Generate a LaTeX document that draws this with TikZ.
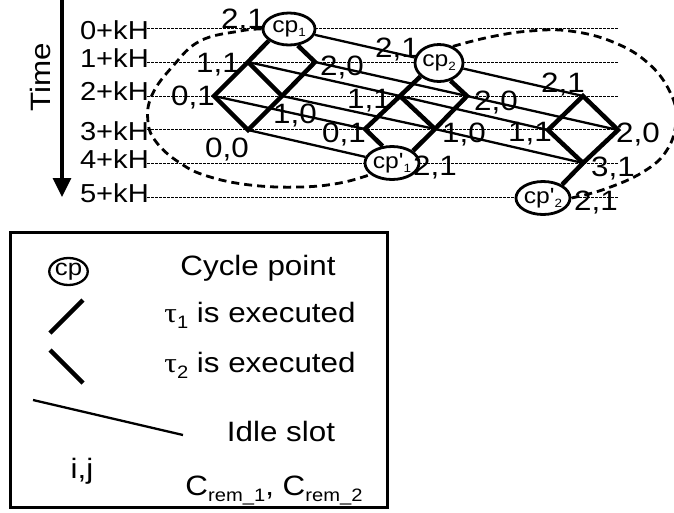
\documentclass[tikz,border=0pt]{standalone}
\usepackage{fontspec}
\setmainfont{Liberation Sans}[FakeStretch=1.12,Ligatures=TeXOff]
\newfontfamily\greekf{Liberation Serif}[FakeStretch=1.12]
\usetikzlibrary{arrows.meta,shapes.geometric}
\newcommand\cpsub[1]{\raisebox{-4pt}{\fontsize{12}{12}\selectfont #1}}
\newcommand\lgsub[1]{\raisebox{-6pt}{\fontsize{18}{18}\selectfont #1}}
\tikzset{
  lbl/.style={inner sep=0pt, anchor=base, font=\fontsize{28}{30}\selectfont},
  tlbl/.style={inner sep=0pt, anchor=base east, font=\fontsize{26}{28}\selectfont},
  cpnode/.style={ellipse, draw, line width=2.8pt, fill=white, inner sep=0pt, font=\fontsize{22}{24}\selectfont},
  exec/.style={line width=4.5pt, line join=miter},
  idle/.style={line width=2.3pt},
  gridline/.style={line width=1pt, dash pattern=on 2.5pt off 1.5pt},
  cyclearc/.style={line width=2.8pt, dash pattern=on 8pt off 5pt},
  legtext/.style={inner sep=0pt, anchor=base, font=\fontsize{28}{30}\selectfont},
}
\begin{document}
\begin{tikzpicture}[x=1pt,y=-1pt]
\useasboundingbox (0,0) rectangle (674,512);
% time axis
\coordinate (tA) at (62,0);
\coordinate (tB) at (62,197);
\draw[line width=3.3pt, -{Triangle[length=19pt,width=18pt]}] (tA) -- (tB);
\node[rotate=90, inner sep=0pt, font=\fontsize{28}{30}\selectfont] (time) at (40,77) {Time};
% time labels
\node[tlbl] (t0) at (149,39) {0+kH};
\node[tlbl] (t1) at (149,67) {1+kH};
\node[tlbl] (t2) at (149,100) {2+kH};
\node[tlbl] (t3) at (149,140) {3+kH};
\node[tlbl] (t4) at (149,168) {4+kH};
\node[tlbl] (t5) at (149,202) {5+kH};
% grid lines
\foreach \yy in {28,62,96,129.5,163,197} \draw[gridline] (147,\yy) -- (618,\yy);
% cycle point nodes
\node[cpnode, minimum width=52pt, minimum height=32pt] (cp1) at (289,29) {cp\cpsub{1}};
\node[cpnode, minimum width=48pt, minimum height=37pt] (cp2) at (439,63) {cp\cpsub{2}};
\node[cpnode, minimum width=49pt, minimum height=33pt] (cpp1) at (392,163) {cp'\cpsub{1}};
\node[cpnode, minimum width=47pt, minimum height=33pt] (cpp2) at (543,198) {cp'\cpsub{2}};
% vertices
\coordinate (A) at (248,62);
\coordinate (C) at (315,62);
\coordinate (B) at (214,96);
\coordinate (D) at (282,96);
\coordinate (E) at (248,130);
\coordinate (F) at (400,96);
\coordinate (G) at (467,96);
\coordinate (H) at (365,129);
\coordinate (I) at (435,129);
\coordinate (J) at (583,96);
\coordinate (K) at (548,130);
\coordinate (L) at (618,130);
\coordinate (M) at (583,163);
% idle slots
\draw[idle] (cp1) -- (cp2);
\draw[idle] (A) -- (F);
\draw[idle] (C) -- (G);
\draw[idle] (B) -- (H);
\draw[idle] (D) -- (I);
\draw[idle] (E) -- (cpp1);
\draw[idle] (cp2) -- (J);
\draw[idle] (F) -- (K);
\draw[idle] (G) -- (L);
\draw[idle] (I) -- (M);
% executions
\draw[exec] (cp1.210) -- (A) -- (B) -- (E) -- (D) -- (C) -- (cp1.298);
\draw[exec] (A) -- (D);
\draw[exec] (cp2.216) -- (F) -- (H) -- (cpp1.119);
\draw[exec] (cp2.303) -- (G) -- (I) -- (cpp1.30);
\draw[exec] (F) -- (I);
\draw[exec] (J) -- (K) -- (M) -- (L) -- cycle;
\draw[exec] (M) -- (cpp2.35);
% state labels
\node[lbl] (l1) at (243,28) {2,1};
\node[lbl] (l2) at (218,72) {1,1};
\node[lbl] (l3) at (193,105) {0,1};
\node[lbl] (l4) at (342,75) {2,0};
\node[lbl] (l5) at (295,123) {1,0};
\node[lbl] (l6) at (227,157) {0,0};
\node[lbl] (l7) at (397,57) {2,1};
\node[lbl] (l8) at (369,108) {1,1};
\node[lbl] (l9) at (496,110) {2,0};
\node[lbl] (l10) at (344,142) {0,1};
\node[lbl] (l11) at (464,142) {1,0};
\node[lbl] (l12) at (435,175) {2,1};
\node[lbl] (l13) at (563,92) {2,1};
\node[lbl] (l14) at (530,141) {1,1};
\node[lbl] (l15) at (638,142) {2,0};
\node[lbl] (l16) at (613,176) {3,1};
\node[lbl] (l17) at (596,210) {2,1};
% cycle arcs
\draw[cyclearc] plot[smooth, tension=0.7] coordinates {(cp1.west) (240,31) (200,41) (173,66) (152,95) (148,122) (157,143) (180,163) (207,176) (250,185) (300,187) (340,183) (cpp1.208)};
\draw[cyclearc] plot[smooth, tension=0.7] coordinates {(cp2.50) (490,37) (530,31) (570,31) (613,42) (648,63) (670,92) (676,120) (667,150) (643,172) (605,189) (cpp2.east)};
% legend
\draw[line width=3pt] (10,232) rectangle (387,507);
\node[ellipse, draw, line width=2.3pt, minimum width=33pt, minimum height=27pt, inner sep=0pt, font=\fontsize{23}{25}\selectfont] (lcp) at (68.5,271.5) {cp};
\node[legtext] (lg1) at (258,275) {Cycle point};
\coordinate (le1a) at (50,333);
\coordinate (le1b) at (83,300);
\draw[exec] (le1a) -- (le1b);
\node[legtext] (lg2) at (260,322) {{\greekf τ}\lgsub{1} is executed};
\coordinate (le2a) at (50,350);
\coordinate (le2b) at (83,383);
\draw[exec] (le2a) -- (le2b);
\node[legtext] (lg3) at (260,372) {{\greekf τ}\lgsub{2} is executed};
\coordinate (le3a) at (33,400);
\coordinate (le3b) at (183,435);
\draw[idle] (le3a) -- (le3b);
\node[legtext] (lg4) at (281,441) {Idle slot};
\node[legtext] (lg5) at (82,478) {i,j};
\node[legtext] (lg6) at (274,495) {C\lgsub{rem\_1}, C\lgsub{rem\_2}};
\end{tikzpicture}
\end{document}
